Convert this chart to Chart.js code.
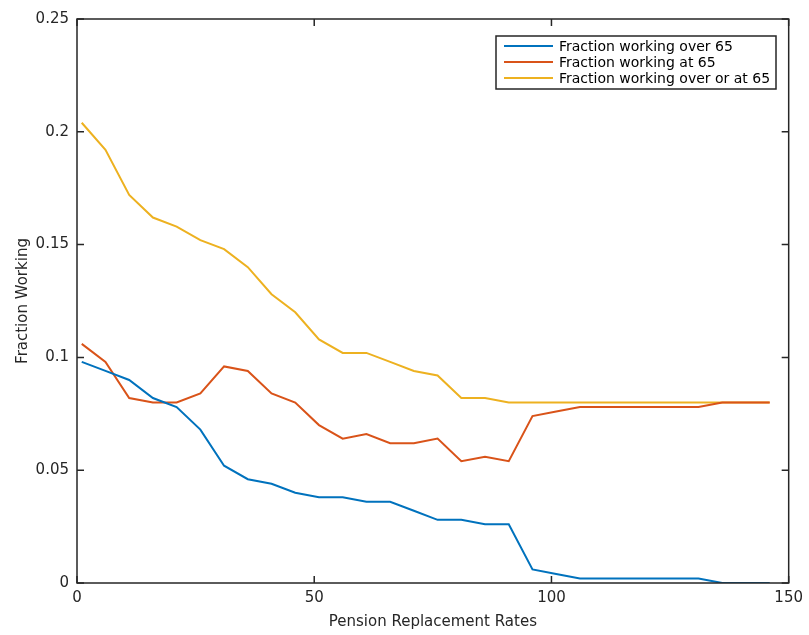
<!DOCTYPE html>
<html>
<head>
<meta charset="utf-8">
<script src="https://cdn.jsdelivr.net/npm/chart.js@4"></script>
<style>
  html, body { margin: 0; padding: 0; background: #fff; }
  #wrap { width: 809px; height: 635px; }
</style>
</head>
<body>
<div id="wrap"><canvas id="lineChart"></canvas></div>
<script>
const rates = [1, 6, 11, 16, 21, 26, 31, 36, 41, 46, 51, 56, 61, 66, 71, 76, 81, 86, 91, 96, 101, 106, 111, 116, 121, 126, 131, 136, 141, 146];
const over65 = [0.098, 0.094, 0.090, 0.082, 0.078, 0.068, 0.052, 0.046, 0.044, 0.040, 0.038, 0.038, 0.036, 0.036, 0.032, 0.028, 0.028, 0.026, 0.026, 0.006, 0.004, 0.002, 0.002, 0.002, 0.002, 0.002, 0.002, 0.000, 0.000, 0.000];
const at65 = [0.106, 0.098, 0.082, 0.080, 0.080, 0.084, 0.096, 0.094, 0.084, 0.080, 0.070, 0.064, 0.066, 0.062, 0.062, 0.064, 0.054, 0.056, 0.054, 0.074, 0.076, 0.078, 0.078, 0.078, 0.078, 0.078, 0.078, 0.080, 0.080, 0.080];
const overOrAt65 = [0.204, 0.192, 0.172, 0.162, 0.158, 0.152, 0.148, 0.140, 0.128, 0.120, 0.108, 0.102, 0.102, 0.098, 0.094, 0.092, 0.082, 0.082, 0.080, 0.080, 0.080, 0.080, 0.080, 0.080, 0.080, 0.080, 0.080, 0.080, 0.080, 0.080];
const xTicks = [0, 50, 100, 150];
const yTicks = [0, 0.05, 0.1, 0.15, 0.2, 0.25];

const axisColor = '#262626';
const fontFamily = '"DejaVu Sans", sans-serif';

const toPoints = arr => arr.map((v, i) => ({ x: rates[i], y: v }));

// box around the axes with inward ticks, like matlab
const boxPlugin = {
  id: 'box',
  afterDatasetsDraw(chart) {
    const { ctx, chartArea: a, scales } = chart;
    ctx.save();
    ctx.strokeStyle = axisColor;
    ctx.lineWidth = 1.5;
    ctx.strokeRect(a.left, a.top, a.right - a.left, a.bottom - a.top);
    const len = 7;
    ctx.beginPath();
    xTicks.forEach(t => {
      const px = scales.x.getPixelForValue(t);
      ctx.moveTo(px, a.bottom); ctx.lineTo(px, a.bottom - len);
      ctx.moveTo(px, a.top); ctx.lineTo(px, a.top + len);
    });
    yTicks.forEach(t => {
      const py = scales.y.getPixelForValue(t);
      ctx.moveTo(a.left, py); ctx.lineTo(a.left + len, py);
      ctx.moveTo(a.right, py); ctx.lineTo(a.right - len, py);
    });
    ctx.stroke();
    ctx.restore();
  }
};

// legend drawn inside the plot, top right
const insideLegend = {
  id: 'insideLegend',
  afterDraw(chart) {
    const { ctx } = chart;
    const x = 496, y = 36, w = 280, h = 53;
    ctx.save();
    ctx.fillStyle = '#fff';
    ctx.fillRect(x, y, w, h);
    ctx.strokeStyle = axisColor;
    ctx.lineWidth = 1.5;
    ctx.strokeRect(x, y, w, h);
    ctx.font = '14px ' + fontFamily;
    ctx.textBaseline = 'middle';
    chart.data.datasets.forEach((ds, i) => {
      const ry = y + 10 + i * 16;
      ctx.strokeStyle = ds.borderColor;
      ctx.lineWidth = 2;
      ctx.beginPath();
      ctx.moveTo(x + 8, ry); ctx.lineTo(x + 57, ry);
      ctx.stroke();
      ctx.fillStyle = '#000';
      ctx.fillText(ds.label, x + 63, ry + 1);
    });
    ctx.restore();
  }
};

new Chart(document.getElementById('lineChart'), {
  type: 'line',
  data: {
    datasets: [
      { label: 'Fraction working over 65', data: toPoints(over65), borderColor: '#0072BD' },
      { label: 'Fraction working at 65', data: toPoints(at65), borderColor: '#D95319' },
      { label: 'Fraction working over or at 65', data: toPoints(overOrAt65), borderColor: '#EDB120' }
    ].map(d => Object.assign(d, { borderWidth: 2, pointRadius: 0, tension: 0, fill: false }))
  },
  options: {
    responsive: true,
    maintainAspectRatio: false,
    animation: false,
    layout: { padding: { top: 19, right: 19, left: 0, bottom: 0 } },
    plugins: {
      legend: { display: false },
      tooltip: { enabled: false }
    },
    scales: {
      x: {
        type: 'linear',
        min: 0,
        max: 150,
        afterFit: s => { s.height = 52; },
        afterBuildTicks: s => { s.ticks = xTicks.map(v => ({ value: v })); },
        grid: { display: false, drawTicks: false },
        border: { display: false },
        ticks: { color: axisColor, padding: 6, maxRotation: 0, font: { family: fontFamily, size: 15 } },
        title: { display: true, text: 'Pension Replacement Rates', color: axisColor, padding: { top: 0, bottom: 4 }, font: { family: fontFamily, size: 15 } }
      },
      y: {
        min: 0,
        max: 0.25,
        afterFit: s => { s.width = 77; },
        afterBuildTicks: s => { s.ticks = yTicks.map(v => ({ value: v })); },
        grid: { display: false, drawTicks: false },
        border: { display: false },
        ticks: { color: axisColor, padding: 8, font: { family: fontFamily, size: 15 }, callback: v => String(v) },
        title: { display: true, text: 'Fraction Working', color: axisColor, padding: { top: 14, bottom: 4 }, font: { family: fontFamily, size: 15 } }
      }
    }
  },
  plugins: [boxPlugin, insideLegend]
});
</script>
</body>
</html>
